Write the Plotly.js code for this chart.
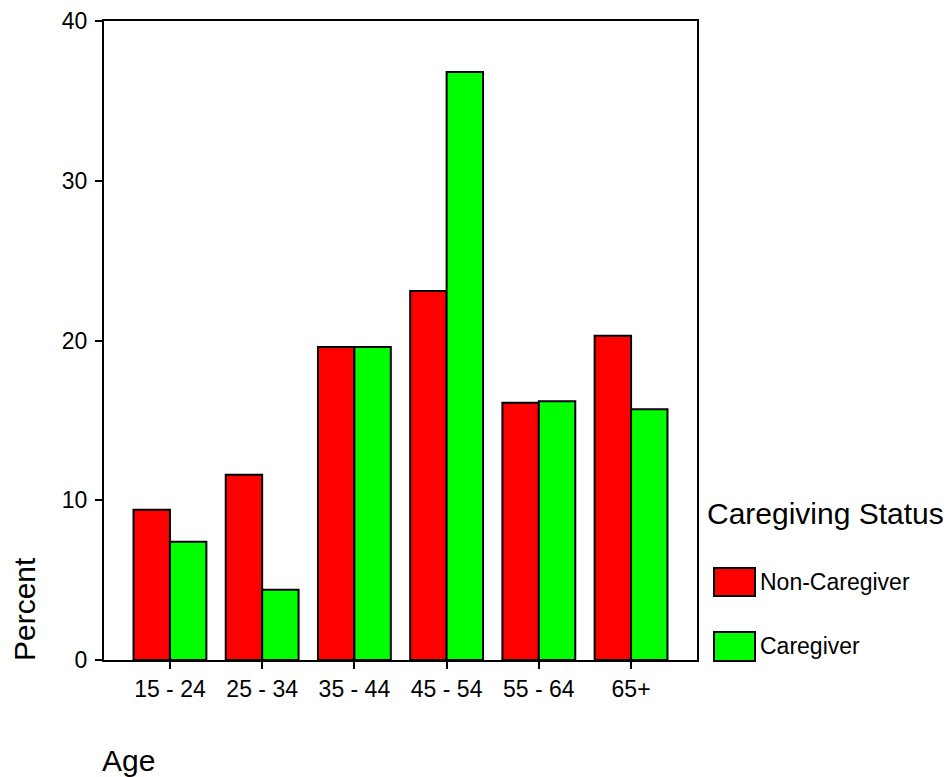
<!DOCTYPE html>
<html>
<head>
<meta charset="utf-8">
<script src="https://cdn.plot.ly/plotly-3.0.1.min.js"></script>
<style>html,body{margin:0;padding:0;background:#fff;}#chart{width:950px;height:777px;}</style>
</head>
<body>
<div id="chart"></div>
<script>
const categories = ["15 - 24", "25 - 34", "35 - 44", "45 - 54", "55 - 64", "65+"];
const seriesNames = ["Non-Caregiver", "Caregiver"];
const nonCaregiver = [9.4, 11.6, 19.6, 23.1, 16.1, 20.3];
const caregiver = [7.4, 4.4, 19.6, 36.8, 16.2, 15.7];
const yTicks = [0, 10, 20, 30, 40];
const legendTitle = "Caregiving Status";
const xTitle = "Age";
const yTitle = "Percent";

const colors = ["#ff0000", "#00ff00"];
const FONT = "Arial, 'Liberation Sans', sans-serif";

const traces = [nonCaregiver, caregiver].map((vals, i) => ({
  type: "bar",
  name: seriesNames[i],
  x: categories,
  y: vals,
  marker: {color: colors[i], line: {color: "#000", width: 2}},
  hoverinfo: "x+y+name"
}));

const swatchY = [[0.1002, 0.144], [-0.0016, 0.0438]];
const textY = [0.122, 0.0219];

const shapes = seriesNames.map((n, i) => ({
  type: "rect", xref: "paper", yref: "paper",
  x0: 1.0287, x1: 1.0978, y0: swatchY[i][0], y1: swatchY[i][1],
  fillcolor: colors[i], line: {color: "#000", width: 2}
}));

const annotations = [
  {text: yTitle, xref: "paper", yref: "paper", x: -0.1349, y: 0.0798, textangle: -90,
   showarrow: false, xanchor: "center", yanchor: "middle", font: {size: 30, family: FONT, color: "#000"}},
  {text: xTitle, xref: "paper", yref: "paper", x: 0.0405, y: -0.1565,
   showarrow: false, xanchor: "center", yanchor: "middle", font: {size: 30, family: FONT, color: "#000"}},
  {text: legendTitle, xref: "paper", yref: "paper", x: 1.0135, y: 0.2285,
   showarrow: false, xanchor: "left", yanchor: "middle", font: {size: 30, family: FONT, color: "#000"}}
].concat(seriesNames.map((n, i) => ({
  text: n, xref: "paper", yref: "paper", x: 1.1030, y: textY[i],
  showarrow: false, xanchor: "left", yanchor: "middle", font: {size: 23, family: FONT, color: "#000"}
})));

const layout = {
  width: 950, height: 777,
  margin: {l: 104, r: 253, t: 21, b: 117, pad: 0},
  paper_bgcolor: "#fff", plot_bgcolor: "#fff",
  barmode: "group", bargap: 0.21, bargroupgap: 0,
  showlegend: false,
  font: {family: FONT, color: "#000"},
  xaxis: {
    type: "category", range: [-0.715, 5.715],
    showline: true, linecolor: "#000", linewidth: 2, mirror: true,
    ticks: "outside", ticklen: 7, tickwidth: 2, tickcolor: "#000",
    tickfont: {size: 23, family: FONT, color: "#000"},
    showgrid: false, zeroline: false, fixedrange: true
  },
  yaxis: {
    range: [0, 40], tickvals: yTicks, ticktext: yTicks.map(String),
    showline: true, linecolor: "#000", linewidth: 2, mirror: true,
    ticks: "outside", ticklen: 7, tickwidth: 2, tickcolor: "#000",
    tickfont: {size: 23, family: FONT, color: "#000"},
    ticklabelstandoff: 3,
    showgrid: false, zeroline: false, fixedrange: true
  },
  shapes: shapes,
  annotations: annotations
};

Plotly.newPlot("chart", traces, layout, {displayModeBar: false, staticPlot: true});
</script>
</body>
</html>
